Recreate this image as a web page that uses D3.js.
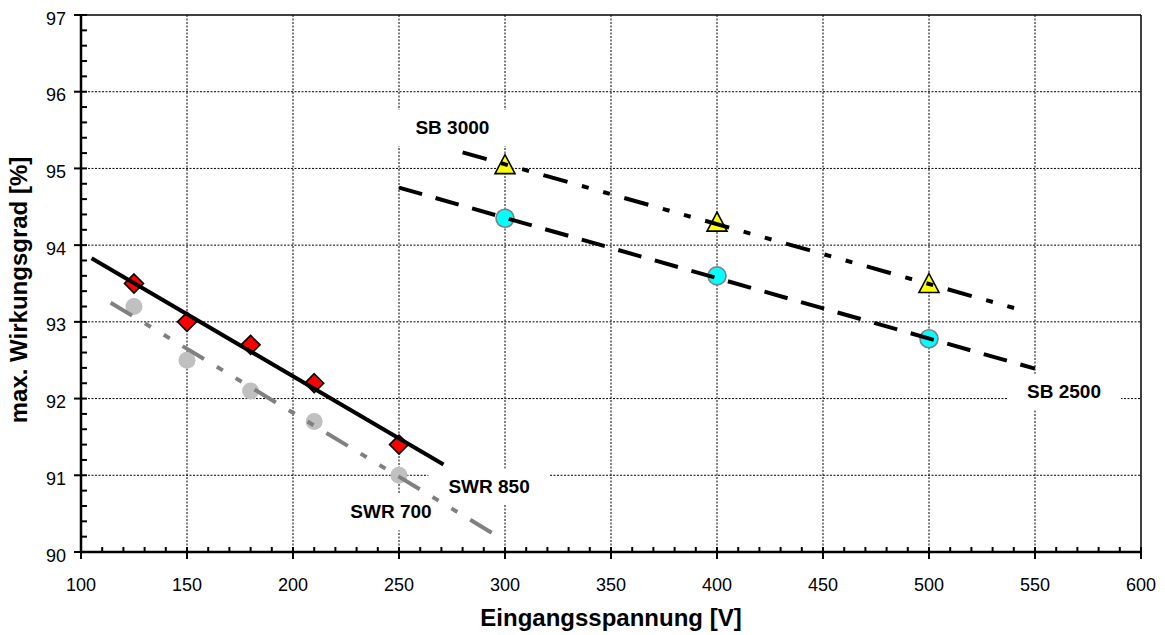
<!DOCTYPE html>
<html>
<head>
<meta charset="utf-8">
<script src="https://cdn.jsdelivr.net/npm/d3@7"></script>
<style>
  html, body { margin: 0; padding: 0; background: #fff; }
  svg { display: block; font-family: "Liberation Sans", Arial, sans-serif; }
</style>
</head>
<body>
<svg id="chart" width="1165" height="635"></svg>
<script>
// ---------- data ----------
const xTickValues = [100, 150, 200, 250, 300, 350, 400, 450, 500, 550, 600];
const yTickValues = [90, 91, 92, 93, 94, 95, 96, 97];

const swrX = [125, 150, 180, 210, 250];
const swr850Y = [93.5, 93.0, 92.7, 92.2, 91.4];
const swr700Y = [93.2, 92.5, 92.1, 91.7, 91.0];

const sbX = [300, 400, 500];
const sb3000Y = [95.05, 94.3, 93.5];
const sb2500Y = [94.35, 93.6, 92.78];

// trend line end points
const trend850X = [105, 271];
const trend850Y = [93.83, 91.14];
const trend700X = [114, 298];
const trend700Y = [93.25, 90.18];
const trend3000X = [280, 544];
const trend3000Y = [95.21, 93.15];
const trend2500X = [250, 550];
const trend2500Y = [94.75, 92.39];

const labelText = ["SB 3000", "SB 2500", "SWR 850", "SWR 700"];
const labelX = [275.2, 563.7, 292.5, 246.2];
const labelY = [95.45, 92.01, 90.77, 90.44];

// ---------- layout ----------
const svg = d3.select("#chart");
const L = 81, R = 1141, T = 15, B = 552;
const x = d3.scaleLinear().domain([100, 600]).range([L, R]);
const y = d3.scaleLinear().domain([90, 97]).range([B, T]);

svg.append("rect").attr("width", 1165).attr("height", 635).attr("fill", "#fff");

// grid
const grid = svg.append("g");
grid.selectAll(".gx").data(xTickValues.filter(v => v > 100 && v < 600)).enter()
  .append("line").attr("x1", d => x(d)).attr("x2", d => x(d)).attr("y1", T).attr("y2", B)
  .attr("stroke", "#000").attr("stroke-width", 1).attr("stroke-dasharray", "2,1.5");
grid.selectAll(".gy").data(yTickValues.filter(v => v > 90 && v < 97)).enter()
  .append("line").attr("y1", d => y(d)).attr("y2", d => y(d)).attr("x1", L).attr("x2", R)
  .attr("stroke", "#000").attr("stroke-width", 1).attr("stroke-dasharray", "2,1.5");

// top / right border
svg.append("line").attr("x1", L).attr("x2", R).attr("y1", T).attr("y2", T)
  .attr("stroke", "#000").attr("stroke-width", 1.5);
svg.append("line").attr("x1", R).attr("x2", R).attr("y1", T).attr("y2", B)
  .attr("stroke", "#000").attr("stroke-width", 1.5);

// label boxes (white) drawn under series
const labels = svg.append("g");
const labelG = labels.selectAll("g").data(labelText.map((t, i) => ({t, x: labelX[i], y: labelY[i]})))
  .enter().append("g");
labelG.append("rect").attr("class", "lbox").attr("fill", "#fff");
labelG.append("text")
  .attr("x", d => x(d.x)).attr("y", d => y(d.y))
  .attr("text-anchor", "middle").attr("font-weight", "bold").attr("font-size", 19)
  .attr("fill", "#000").text(d => d.t);
labelG.each(function() {
  const g = d3.select(this);
  const bb = g.select("text").node().getBBox();
  const base = +g.select("text").attr("y");
  g.select("rect").attr("x", bb.x - 20).attr("width", bb.width + 40)
    .attr("y", base - 24).attr("height", 36);
});

// markers
const swrPts = swrX.map((v, i) => ({x: v, a: swr850Y[i], b: swr700Y[i]}));
const sbPts = sbX.map((v, i) => ({x: v, a: sb3000Y[i], b: sb2500Y[i]}));

svg.append("g").selectAll("circle").data(swrPts).enter().append("circle")
  .attr("cx", d => x(d.x)).attr("cy", d => y(d.b)).attr("r", 8.5)
  .attr("fill", "#c0c0c0");

svg.append("g").selectAll("path").data(swrPts).enter().append("path")
  .attr("d", d => { const cx = x(d.x), cy = y(d.a), r = 9.5;
    return `M${cx},${cy - r}L${cx + r},${cy}L${cx},${cy + r}L${cx - r},${cy}Z`; })
  .attr("fill", "#ff0000").attr("stroke", "#000").attr("stroke-width", 1.6);

svg.append("g").selectAll("circle").data(sbPts).enter().append("circle")
  .attr("cx", d => x(d.x)).attr("cy", d => y(d.b)).attr("r", 9)
  .attr("fill", "#00ffff").attr("stroke", "#808080").attr("stroke-width", 1.6);

svg.append("g").selectAll("path").data(sbPts).enter().append("path")
  .attr("d", d => { const cx = x(d.x), cy = y(d.a);
    return `M${cx},${cy - 10}L${cx + 10},${cy + 9}L${cx - 10},${cy + 9}Z`; })
  .attr("fill", "#ffff00").attr("stroke", "#000").attr("stroke-width", 1.6);

// trend lines
const line = d3.line().x(d => x(d[0])).y(d => y(d[1]));
function trend(xs, ys, color, dash) {
  svg.append("path").datum(xs.map((v, i) => [v, ys[i]]))
    .attr("d", line).attr("fill", "none").attr("stroke", color).attr("stroke-width", 4)
    .attr("stroke-dasharray", dash);
}
trend(trend850X, trend850Y, "#000", null);
trend(trend700X, trend700Y, "#808080", "25,15,7,15,7,15");
trend(trend3000X, trend3000Y, "#000", "25,15,7,15,7,15");
trend(trend2500X, trend2500Y, "#000", "24,14");

// axes
const ax = svg.append("g");
ax.append("line").attr("x1", L).attr("x2", R).attr("y1", B).attr("y2", B)
  .attr("stroke", "#000").attr("stroke-width", 2.5);
ax.append("line").attr("x1", L).attr("x2", L).attr("y1", T).attr("y2", B)
  .attr("stroke", "#000").attr("stroke-width", 2.5);

const xMinor = d3.range(100, 601, 10).filter(v => v % 50 !== 0);
const yMinor = d3.range(90, 97.001, 0.2).filter(v => Math.abs(v - Math.round(v)) > 0.01);
ax.selectAll(".xm").data(xMinor).enter().append("line")
  .attr("x1", d => x(d)).attr("x2", d => x(d)).attr("y1", B).attr("y2", B - 5)
  .attr("stroke", "#000").attr("stroke-width", 2);
ax.selectAll(".ym").data(yMinor).enter().append("line")
  .attr("y1", d => y(d)).attr("y2", d => y(d)).attr("x1", L).attr("x2", L + 6)
  .attr("stroke", "#000").attr("stroke-width", 2);
ax.selectAll(".xM").data(xTickValues).enter().append("line")
  .attr("x1", d => x(d)).attr("x2", d => x(d)).attr("y1", B - 5).attr("y2", B + 7)
  .attr("stroke", "#000").attr("stroke-width", 2);
ax.selectAll(".yM").data(yTickValues).enter().append("line")
  .attr("y1", d => y(d)).attr("y2", d => y(d)).attr("x1", L - 7).attr("x2", L + 6)
  .attr("stroke", "#000").attr("stroke-width", 2);

ax.selectAll(".xl").data(xTickValues).enter().append("text")
  .attr("x", d => x(d)).attr("y", 591).attr("text-anchor", "middle")
  .attr("font-size", 18).attr("fill", "#000").text(d => d);
ax.selectAll(".yl").data(yTickValues).enter().append("text")
  .attr("x", 66).attr("y", d => y(d) + 9.5).attr("text-anchor", "end")
  .attr("font-size", 18).attr("fill", "#000").text(d => d);

svg.append("text").attr("x", (L + R) / 2).attr("y", 626).attr("text-anchor", "middle")
  .attr("font-weight", "bold").attr("font-size", 24).text("Eingangsspannung [V]");
svg.append("text").attr("transform", "translate(27,290) rotate(-90)").attr("text-anchor", "middle")
  .attr("font-weight", "bold").attr("font-size", 24).text("max. Wirkungsgrad [%]");
</script>
</body>
</html>
